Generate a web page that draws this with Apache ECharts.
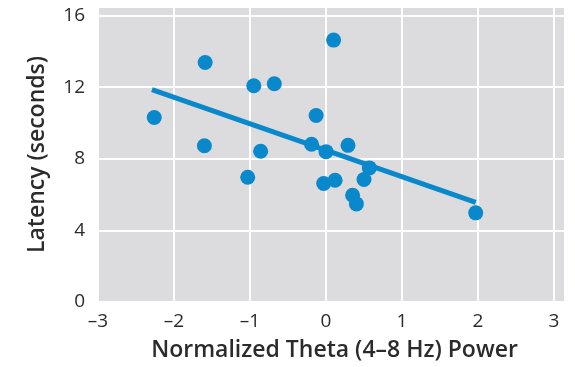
<!DOCTYPE html>
<html><head><meta charset="utf-8">
<script src="https://cdn.jsdelivr.net/npm/echarts@6/dist/echarts.min.js"></script>
<style>html,body{margin:0;padding:0;background:#fff}#c{width:575px;height:367px}</style>
</head><body><div id="c"></div>
<script>
var thetaPower = [-2.26,-1.59,-1.60,-0.95,-0.68,-0.86,0.10,-0.13,-0.19,0.00,0.29,0.57,-1.03,-0.03,0.12,0.50,0.35,0.40,1.97];
var latency    = [10.31,13.38,8.73,12.08,12.19,8.42,14.63,10.42,8.81,8.40,8.75,7.49,6.97,6.62,6.80,6.84,5.96,5.48,4.98];
var fitX = [-2.29, 1.97];
var fitY = [11.86, 5.57];
var xTicks = [-3,-2,-1,0,1,2,3];
var yTicks = [0,4,8,12,16];

var pts = thetaPower.map(function(x,i){return [x, latency[i]];});
var fit = fitX.map(function(x,i){return [x, fitY[i]];});
var col = '#0a88cc';
var txt = '#2b2b2b';
var chart = echarts.init(document.getElementById('c'));
chart.setOption({
  animation:false,
  grid:{left:98,right:10,top:7,bottom:64,show:true,backgroundColor:'#dcdcde',borderWidth:0},
  xAxis:{type:'value',min:-3,max:3.145,interval:1,
    axisLine:{show:false},axisTick:{show:false},
    splitLine:{lineStyle:{color:'#ffffff',width:2}},
    axisLabel:{color:txt,fontSize:19,fontFamily:'Open Sans',margin:10,showMaxLabel:false,
      formatter:function(v){return xTicks.indexOf(v)<0?'':String(v).replace('-','\u2013');}},
    name:'Normalized Theta (4\u20138 Hz) Power',nameLocation:'middle',nameGap:37,
    nameTextStyle:{color:txt,fontSize:23,fontWeight:600,fontFamily:'Open Sans',padding:[0,0,0,6]}},
  yAxis:{type:'value',min:0,max:16.48,interval:4,
    axisLine:{show:false},axisTick:{show:false},
    splitLine:{lineStyle:{color:'#ffffff',width:2}},
    axisLabel:{color:txt,fontSize:19,fontFamily:'Open Sans',margin:13,showMaxLabel:false,
      formatter:function(v){return yTicks.indexOf(v)<0?'':String(v);}},
    name:'Latency (seconds)',nameLocation:'middle',nameGap:49,nameRotate:90,
    nameTextStyle:{color:txt,fontSize:23,fontWeight:600,fontFamily:'Open Sans'}},
  series:[
    {type:'line',data:fit,symbol:'none',lineStyle:{color:col,width:5},z:2},
    {type:'scatter',data:pts,symbolSize:15,itemStyle:{color:col,opacity:1},z:3}
  ]
});
</script></body></html>
